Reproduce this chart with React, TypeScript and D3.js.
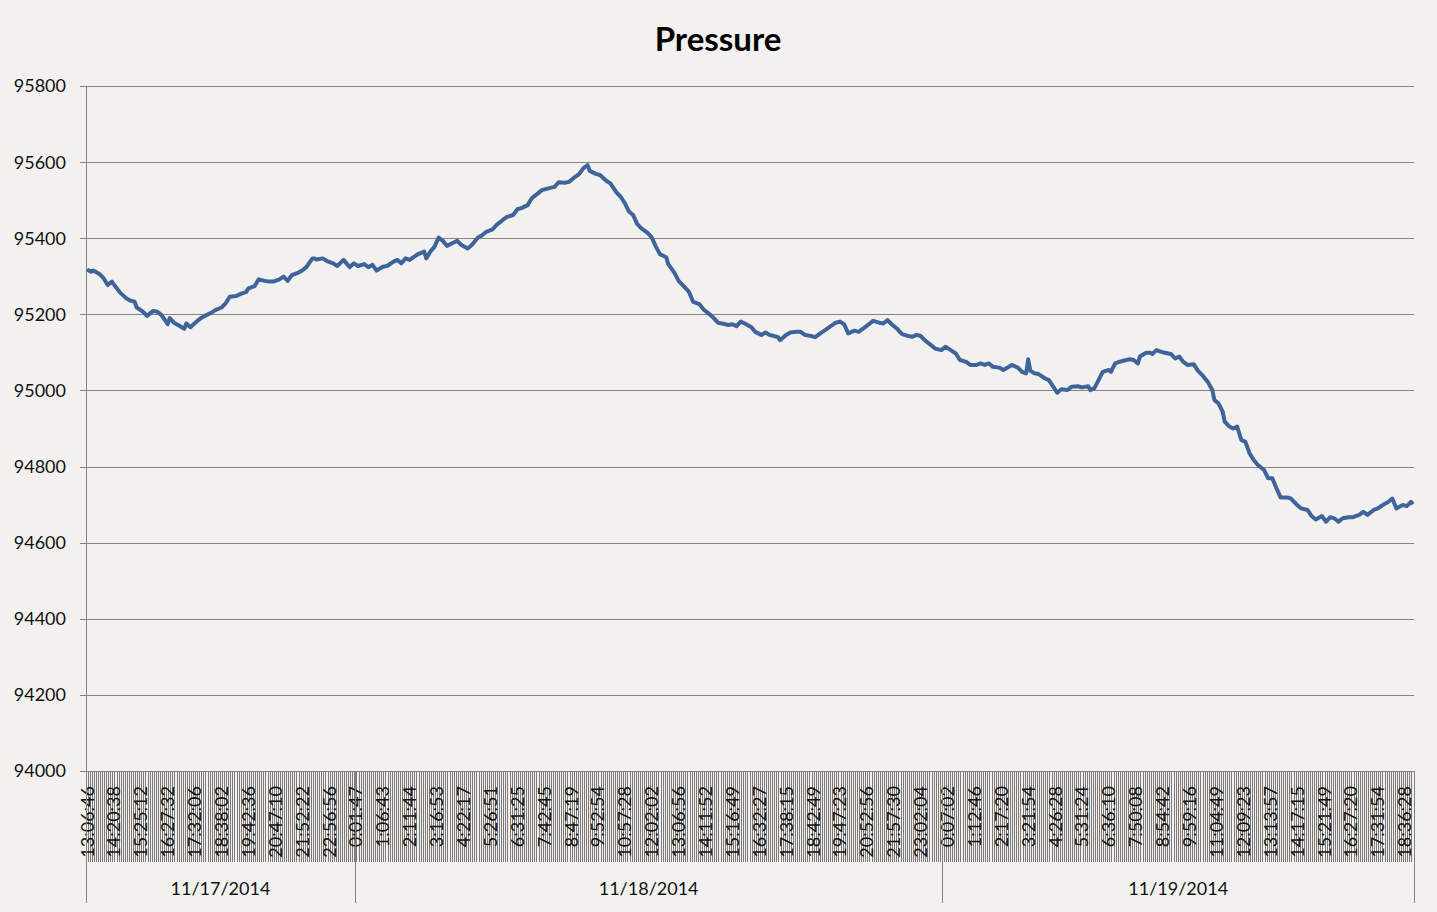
import React, { useEffect, useRef } from 'react';
import * as d3 from 'd3';

// sample index (category position) and pressure
const sampleIdx = [
	0, 2, 3, 6, 8, 10, 12, 14, 16, 19, 21, 23, 24, 27, 29, 32, 34, 36, 39, 40, 42, 44, 47, 48, 50, 53, 55, 57, 60, 62,
	65, 67, 69, 72, 74, 77, 78, 81, 83, 86, 88, 90, 93, 95, 97, 99, 102, 104, 106, 109,
	110, 111, 114, 116, 119, 121, 124, 127, 129, 131, 134, 136, 138, 140, 143, 145, 148, 150, 152, 154, 156, 158, 160,
	163, 164, 166, 168, 170, 172, 174, 177, 179, 181, 184, 186, 189, 191, 193, 196, 198, 201, 203, 206, 208, 210, 213,
	215, 218, 220,
	221, 223, 226, 228, 231, 233, 235, 238, 240, 242, 243, 246, 248, 251, 253, 256, 258, 260, 262, 264, 266, 268, 271,
	273, 275, 277, 280, 281, 284, 286, 289, 291, 293, 296, 298, 301, 303, 305, 307, 310, 312, 314, 316, 318, 321, 323,
	326, 328, 330,
	332, 334, 335, 338, 340, 343, 345, 347, 350, 352, 355, 357, 359, 362, 364, 366, 368, 371, 373, 376, 378, 380, 383,
	385, 387, 389, 392, 394, 397, 399, 401, 403, 405, 408, 410, 413, 415, 417, 420, 422, 425, 427, 430, 432, 434, 436,
	438, 441, 443,
	445, 447, 450, 452, 454, 455, 456, 458, 460, 463, 465, 467, 469, 471, 474, 476, 479, 481, 484, 485, 487, 489, 491,
	494, 495, 497, 499, 501, 504, 506, 508, 509, 512, 514, 515, 517, 519, 521, 524, 526, 528, 530, 532, 535, 537, 539,
	542, 544, 545, 547, 549, 550, 552, 554,
	556, 558, 560, 562, 564, 566, 569, 571, 573, 575, 577, 580, 582, 585, 587, 590, 592, 594, 597, 599, 601, 603, 605,
	607, 610, 612, 615, 617, 619, 622, 624, 627, 629, 631, 633, 636, 638, 640, 641,
];

const pressure = [
	95318, 95312, 95315, 95306, 95295, 95277, 95286, 95271, 95257, 95242, 95236, 95233, 95218, 95207, 95196, 95209, 95207,
	95198, 95174, 95190, 95178, 95172, 95162, 95176, 95166, 95181, 95190, 95196, 95204, 95211, 95218, 95229, 95246, 95248,
	95253, 95259, 95268, 95274, 95292, 95288, 95286, 95286, 95292, 95299, 95288, 95303, 95309, 95315, 95324, 95347,
	95347, 95344, 95347, 95340, 95334, 95327, 95343, 95324, 95334, 95327, 95332, 95324, 95330, 95315, 95325, 95327, 95338,
	95343, 95334, 95347, 95343, 95351, 95358, 95365, 95347, 95365, 95378, 95402, 95393, 95380, 95388, 95393, 95382, 95373,
	95382, 95402, 95408, 95417, 95423, 95435, 95448, 95456, 95461, 95476, 95479, 95487, 95505, 95518, 95527,
	95528, 95531, 95535, 95547, 95546, 95548, 95557, 95569, 95584, 95592, 95577, 95569, 95566, 95551, 95544, 95520, 95509,
	95492, 95470, 95461, 95437, 95426, 95414, 95402, 95378, 95358, 95350, 95332, 95309, 95288, 95271, 95259, 95233, 95227,
	95213, 95200, 95190, 95178, 95176, 95172, 95174, 95169, 95181, 95176, 95167, 95154, 95146, 95152, 95146,
	95143, 95140, 95132, 95146, 95152, 95154, 95154, 95146, 95143, 95140, 95152, 95159, 95167, 95178, 95181, 95174, 95150,
	95157, 95154, 95166, 95174, 95183, 95178, 95176, 95185, 95174, 95160, 95148, 95143, 95141, 95146, 95143, 95132, 95119,
	95110, 95106, 95115, 95108, 95097, 95080, 95075, 95067, 95067, 95071, 95067, 95071, 95062, 95060, 95054,
	95060, 95067, 95060, 95049, 95045, 95082, 95052, 95045, 95043, 95032, 95027, 95011, 94994, 95003, 95001, 95010, 95011,
	95008, 95011, 95001, 95006, 95027, 95049, 95054, 95049, 95071, 95075, 95078, 95082, 95080, 95071, 95089, 95099, 95099,
	95096, 95106, 95102, 95099, 95096, 95084, 95089, 95075, 95067, 95069, 95052, 95041, 95021, 95001, 94975, 94966, 94944,
	94918, 94906, 94900,
	94905, 94870, 94865, 94835, 94817, 94804, 94791, 94769, 94769, 94743, 94719, 94719, 94716, 94699, 94690, 94686, 94670,
	94661, 94670, 94655, 94667, 94664, 94655, 94664, 94667, 94667, 94673, 94681, 94673, 94686, 94690, 94701, 94707, 94716,
	94690, 94699, 94696, 94707, 94701,
];

// every 13th category carries a label
const tickEvery = 13;
const tickLabels = [
	'13:06:46', '14:20:38', '15:25:12', '16:27:32', '17:32:06', '18:38:02', '19:42:36', '20:47:10', '21:52:22', '22:56:56',
	'0:01:47', '1:06:43', '2:11:44', '3:16:53', '4:22:17', '5:26:51', '6:31:25', '7:42:45', '8:47:19', '9:52:54',
	'10:57:28', '12:02:02', '13:06:56', '14:11:52', '15:16:49', '16:32:27', '17:38:15', '18:42:49', '19:47:23', '20:52:56',
	'21:57:30', '23:02:04', '0:07:02', '1:12:46', '2:17:20', '3:21:54', '4:26:28', '5:31:24', '6:36:10', '7:50:08',
	'8:54:42', '9:59:16', '11:04:49', '12:09:23', '13:13:57', '14:17:15', '15:21:49', '16:27:20', '17:31:54', '18:36:28',
];

const dates = ['11/17/2014', '11/18/2014', '11/19/2014'];
const dateCounts = [130, 284, 228];

const W = 1437;
const H = 912;
const margin = { top: 86, right: 23, bottom: 141, left: 86 };
const font = 'Lato, "Noto Sans", sans-serif';

const App: React.FC = () => {
	const svgRef = useRef<SVGSVGElement>(null);

	useEffect(() => {
		d3.select(svgRef.current).selectAll('*').remove();
		const svg = d3.select(svgRef.current);
		const nCat = d3.sum(dateCounts);
		const x0 = margin.left;
		const x1 = W - margin.right;
		const y0 = H - margin.bottom;

		const x = d3.scaleLinear().domain([0, nCat]).range([x0, x1]);
		const y = d3.scaleLinear().domain([94000, 95800]).range([y0, margin.top]);

		svg.append('rect').attr('width', W).attr('height', H).attr('fill', '#f2f1ef');

		// title
		svg
			.append('text')
			.attr('x', 718)
			.attr('y', 51)
			.attr('text-anchor', 'middle')
			.style('font-family', font)
			.style('font-weight', 'bold')
			.style('font-size', '33px')
			.style('fill', '#000')
			.text('Pressure');

		const grid = '#86827e';

		// horizontal gridlines + y labels
		const yTicks = y.ticks(10);
		svg
			.append('g')
			.selectAll('line')
			.data(yTicks)
			.enter()
			.append('line')
			.attr('x1', x0 - 6)
			.attr('x2', x1)
			.attr('y1', (d) => Math.round(y(d)) + 0.5)
			.attr('y2', (d) => Math.round(y(d)) + 0.5)
			.attr('stroke', grid)
			.attr('stroke-width', 1);

		svg
			.append('g')
			.selectAll('text')
			.data(yTicks)
			.enter()
			.append('text')
			.attr('x', 66)
			.attr('y', (d) => y(d))
			.attr('dy', '0.36em')
			.attr('text-anchor', 'end')
			.style('font-family', font)
			.style('font-size', '18px')
			.style('fill', '#111')
			.text((d) => d3.format('d')(d));

		// y axis line
		svg
			.append('line')
			.attr('x1', x0 + 0.5)
			.attr('x2', x0 + 0.5)
			.attr('y1', margin.top)
			.attr('y2', y0)
			.attr('stroke', grid);

		// category tick marks (one per sample)
		svg
			.append('g')
			.attr('shape-rendering', 'crispEdges')
			.selectAll('line')
			.data(d3.range(nCat + 1))
			.enter()
			.append('line')
			.attr('x1', (d) => x(d))
			.attr('x2', (d) => x(d))
			.attr('y1', y0)
			.attr('y2', 862)
			.attr('stroke', '#7c7976')
			.attr('stroke-width', 1);

		// time labels
		svg
			.append('g')
			.selectAll('text')
			.data(tickLabels)
			.enter()
			.append('text')
			.attr('transform', (_, i) => `translate(${x(i * tickEvery + 0.5)}, 786) rotate(-90)`)
			.attr('dy', '0.36em')
			.attr('text-anchor', 'end')
			.style('font-family', font)
			.style('font-size', '18px')
			.style('fill', '#111')
			.text((d) => d);

		// date groups
		const bounds = [0, ...d3.cumsum(dateCounts)];
		svg
			.append('g')
			.selectAll('line')
			.data(bounds)
			.enter()
			.append('line')
			.attr('x1', (d) => Math.round(x(d)) + 0.5)
			.attr('x2', (d) => Math.round(x(d)) + 0.5)
			.attr('y1', y0)
			.attr('y2', 903)
			.attr('stroke', grid);

		svg
			.append('g')
			.selectAll('text')
			.data(dates)
			.enter()
			.append('text')
			.attr('x', (_, i) => (x(bounds[i]) + x(bounds[i + 1])) / 2)
			.attr('y', 895)
			.attr('text-anchor', 'middle')
			.style('font-family', font)
			.style('font-size', '18px')
			.style('fill', '#111')
			.text((d) => d);

		// pressure line
		const line = d3
			.line<number>()
			.x((_, i) => x(sampleIdx[i] + 0.5))
			.y((d) => y(d));

		svg
			.append('path')
			.datum(pressure)
			.attr('d', line)
			.attr('fill', 'none')
			.attr('stroke', '#3f649a')
			.attr('stroke-width', 4)
			.attr('stroke-linejoin', 'round');
	}, []);

	return <svg ref={svgRef} width={W} height={H} style={{ position: 'absolute', left: 0, top: 0 }} />;
};

export default App;
